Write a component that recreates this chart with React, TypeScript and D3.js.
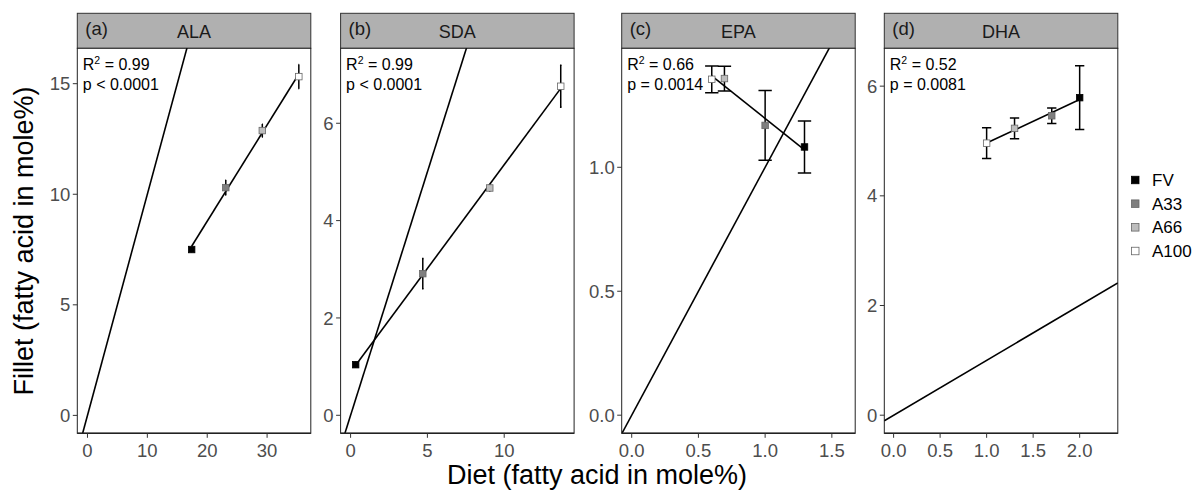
import React from 'react';
import * as d3 from 'd3';

// groups and fills
const groups = ['FV', 'A33', 'A66', 'A100'];
const groupFill = ['#000000', '#7f7f7f', '#bdbdbd', '#ffffff'];

// panel meta
const panelTags = ['(a)', '(b)', '(c)', '(d)'];
const panelNames = ['ALA', 'SDA', 'EPA', 'DHA'];
const panelStats = [
  ['0.99', 'p < 0.0001'],
  ['0.99', 'p < 0.0001'],
  ['0.66', 'p = 0.0014'],
  ['0.52', 'p = 0.0081'],
];

// diet means (x), fillet means (y), fillet sd (error bars), order FV, A33, A66, A100
const dietALA = [17.4, 23.1, 29.2, 35.3];
const filletALA = [7.5, 10.3, 12.88, 15.32];
const errALA = [0.1, 0.35, 0.3, 0.55];

const dietSDA = [0.33, 4.7, 9.06, 13.68];
const filletSDA = [1.04, 2.91, 4.67, 6.76];
const errSDA = [0.05, 0.31, 0.06, 0.43];

const dietEPA = [1.295, 1.0, 0.695, 0.6];
const filletEPA = [1.082, 1.169, 1.358, 1.355];
const errEPA = [0.105, 0.141, 0.05, 0.054];

const dietDHA = [2.0, 1.7, 1.3, 1.0];
const filletDHA = [5.79, 5.46, 5.23, 4.96];
const errDHA = [0.58, 0.14, 0.19, 0.28];

// axis limits + ticks (free scales)
const xDomains = [[-1.7, 37.3], [-0.65, 14.55], [-0.075, 1.675], [-0.1, 2.41]];
const yDomains = [[-0.81, 16.6], [-0.37, 7.54], [-0.073, 1.48], [-0.33, 6.69]];
const xTicks = [[0, 10, 20, 30], [0, 5, 10], [0, 0.5, 1.0, 1.5], [0, 0.5, 1.0, 1.5, 2.0]];
const yTicks = [[0, 5, 10, 15], [0, 2, 4, 6], [0, 0.5, 1.0], [0, 2, 4, 6]];
const xFmt = [d3.format('d'), d3.format('d'), d3.format('.1f'), d3.format('.1f')];
const yFmt = [d3.format('d'), d3.format('d'), d3.format('.1f'), d3.format('d')];

const panelData = [
  { x: dietALA, y: filletALA, e: errALA },
  { x: dietSDA, y: filletSDA, e: errSDA },
  { x: dietEPA, y: filletEPA, e: errEPA },
  { x: dietDHA, y: filletDHA, e: errDHA },
];

const font = '"Liberation Sans", Arial, Helvetica, sans-serif';
const lefts = [77.3, 340.6, 621.7, 884.3];
const panelW = 233.5;
const stripTop = 13.3;
const panelTop = 48.3;
const panelBottom = 433.3;

function lmFit(xs: number[], ys: number[]) {
  const mx = d3.mean(xs)!;
  const my = d3.mean(ys)!;
  let sxy = 0, sxx = 0;
  xs.forEach((x, i) => {
    sxy += (x - mx) * (ys[i] - my);
    sxx += (x - mx) * (x - mx);
  });
  const b = sxy / sxx;
  return (x: number) => my + b * (x - mx);
}

const Panel = ({ i }: { i: number }) => {
  const left = lefts[i];
  const x = d3.scaleLinear().domain(xDomains[i]).range([left, left + panelW]);
  const y = d3.scaleLinear().domain(yDomains[i]).range([panelBottom, panelTop]);
  const { x: xs, y: ys, e } = panelData[i];
  const fit = lmFit(xs, ys);
  const [x0, x1] = d3.extent(xs) as [number, number];
  const clipId = `clip${i}`;
  const capHalf = 0.05;
  const sq = 6.5;
  return (
    <g>
      <defs>
        <clipPath id={clipId}>
          <rect x={left} y={panelTop} width={panelW} height={panelBottom - panelTop} />
        </clipPath>
      </defs>
      {/* strip */}
      <rect x={left} y={stripTop} width={panelW} height={panelTop - stripTop} fill="#b0b0b0" stroke="#333" strokeWidth={1} />
      <text x={left + 8} y={35} fontSize={18.5} fill="#1a1a1a" fontFamily={font}>{panelTags[i]}</text>
      <text x={left + panelW / 2} y={38.3} fontSize={18} fill="#1a1a1a" textAnchor="middle" fontFamily={font}>{panelNames[i]}</text>
      {/* panel */}
      <rect x={left} y={panelTop} width={panelW} height={panelBottom - panelTop} fill="#fff" stroke="#222" strokeWidth={1} />
      <g clipPath={`url(#${clipId})`}>
        {/* 1:1 line */}
        <line
          x1={x(xDomains[i][0])} y1={y(xDomains[i][0])}
          x2={x(xDomains[i][1])} y2={y(xDomains[i][1])}
          stroke="#000" strokeWidth={1.6}
        />
        {/* regression */}
        <line x1={x(x0)} y1={y(fit(x0))} x2={x(x1)} y2={y(fit(x1))} stroke="#000" strokeWidth={1.6} />
        {xs.map((xv, k) => (
          <g key={`e${k}`} stroke="#000" strokeWidth={1.5}>
            <line x1={x(xv)} x2={x(xv)} y1={y(ys[k] - e[k])} y2={y(ys[k] + e[k])} />
            <line x1={x(xv - capHalf)} x2={x(xv + capHalf)} y1={y(ys[k] - e[k])} y2={y(ys[k] - e[k])} />
            <line x1={x(xv - capHalf)} x2={x(xv + capHalf)} y1={y(ys[k] + e[k])} y2={y(ys[k] + e[k])} />
          </g>
        ))}
        {xs.map((xv, k) => (
          <rect key={`p${k}`} x={x(xv) - sq / 2} y={y(ys[k]) - sq / 2} width={sq} height={sq}
            fill={groupFill[k]} stroke={k === 0 ? '#000' : '#666'} strokeWidth={0.8} />
        ))}
      </g>
      {/* stats */}
      <text x={left + 5.5} y={70} fontSize={16} fill="#000" fontFamily={font}>
        R<tspan fontSize={10.5} dy={-6}>2</tspan><tspan dy={6}>{` = ${panelStats[i][0]}`}</tspan>
      </text>
      <text x={left + 5.5} y={90} fontSize={16} fill="#000" fontFamily={font}>{panelStats[i][1]}</text>
      {/* bottom axis line */}
      <line x1={left} x2={left + panelW} y1={panelBottom} y2={panelBottom} stroke="#222" strokeWidth={1.6} />
      {/* x ticks */}
      {xTicks[i].map((t) => (
        <g key={`xt${t}`}>
          <line x1={x(t)} x2={x(t)} y1={panelBottom} y2={panelBottom + 4.5} stroke="#333" strokeWidth={1} />
          <text x={x(t)} y={456.5} fontSize={18.5} fill="#4d4d4d" textAnchor="middle" fontFamily={font}>{xFmt[i](t)}</text>
        </g>
      ))}
      {/* y ticks */}
      {yTicks[i].map((t) => (
        <g key={`yt${t}`}>
          <line x1={left - 4.5} x2={left} y1={y(t)} y2={y(t)} stroke="#333" strokeWidth={1} />
          <text x={left - 7} y={y(t)} dy="0.36em" fontSize={18.5} fill="#4d4d4d" textAnchor="end" fontFamily={font}>{yFmt[i](t)}</text>
        </g>
      ))}
    </g>
  );
};

const legendY = d3.scalePoint<string>().domain(groups).range([180, 251]);

export default function App() {
  return (
    <svg width={1195} height={490} style={{ position: 'absolute', left: 0, top: 0, background: '#fff' }}>
      <rect width={1195} height={490} fill="#fff" />
      {panelNames.map((_, i) => <Panel key={i} i={i} />)}
      <text x={597} y={484} fontSize={27} textAnchor="middle" fill="#000" fontFamily={font}>Diet (fatty acid in mole%)</text>
      <text transform="translate(33,241) rotate(-90)" fontSize={27} textAnchor="middle" fill="#000" fontFamily={font}>Fillet (fatty acid in mole%)</text>
      {groups.map((g, k) => (
        <g key={g}>
          <rect x={1131.5} y={legendY(g)! - 3.75} width={7.5} height={7.5} fill={groupFill[k]} stroke={k === 0 ? '#000' : '#666'} strokeWidth={0.8} />
          <text x={1152} y={legendY(g)!} dy="0.36em" fontSize={17} fill="#000" fontFamily={font}>{g}</text>
        </g>
      ))}
    </svg>
  );
}
